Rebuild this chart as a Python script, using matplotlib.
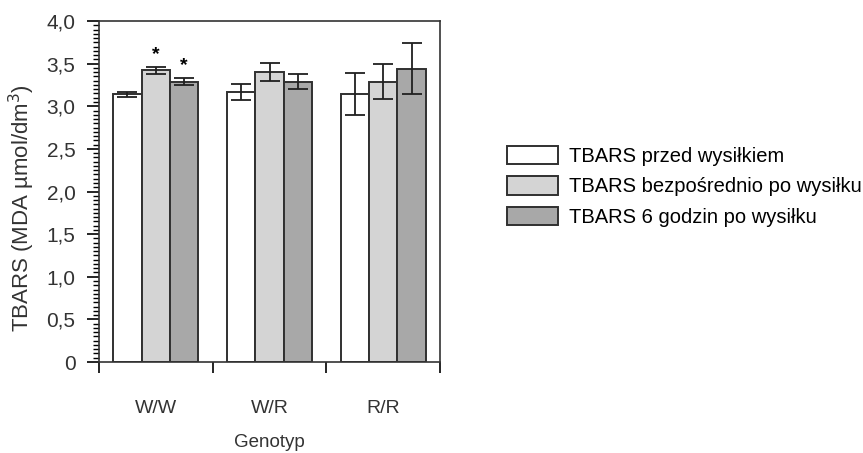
import numpy as np
import matplotlib.pyplot as plt
from matplotlib.ticker import MultipleLocator, FuncFormatter

plt.rcParams['font.family'] = ['Liberation Sans', 'DejaVu Sans']

genotypes = ["W/W", "W/R", "R/R"]
series = ["TBARS przed wysiłkiem", "TBARS bezpośrednio po wysiłku", "TBARS 6 godzin po wysiłku"]
before = [3.14, 3.17, 3.14]
before_err = [0.03, 0.095, 0.245]
after = [3.42, 3.40, 3.29]
after_err = [0.045, 0.105, 0.21]
after6 = [3.29, 3.29, 3.44]
after6_err = [0.045, 0.09, 0.30]
stars = [[False, True, True], [False, False, False], [False, False, False]]

colors = ["white", "#d4d4d4", "#a8a8a8"]
edge = "#303030"
txt = "#333333"

fig = plt.figure(figsize=(8.63, 4.53), dpi=100)
ax = fig.add_axes([99/863, 1 - 362/453, 341/863, 341/453])

x = np.arange(len(genotypes))
w = 0.25
vals = [before, after, after6]
errs = [before_err, after_err, after6_err]
for i in range(3):
    pos = x + (i - 1) * w
    ax.bar(pos, vals[i], w, color=colors[i], edgecolor=edge, linewidth=1.4,
           label=series[i], zorder=2)
    ax.errorbar(pos, vals[i], yerr=errs[i], fmt='none', ecolor="#202020",
                elinewidth=1.3, capsize=7, capthick=1.3, zorder=3)
    for g in range(3):
        if stars[g][i]:
            ax.text(pos[g], vals[i][g] + errs[i][g] + 0.04, "*", ha='center',
                    va='bottom', fontsize=14, fontweight='bold')

ax.set_xlim(-0.5, 2.5)
ax.set_ylim(0, 4.0)
ax.set_xticks([-0.5, 0.5, 1.5, 2.5])
ax.set_xticklabels([])
ax.tick_params(axis='x', length=8, width=1.2, direction='out')
for g, name in enumerate(genotypes):
    ax.text(g, -0.54, name, ha='center', va='center', fontsize=14, color=txt)
ax.text(1, -0.95, "Genotyp", ha='center', va='center', fontsize=13.5, color=txt)

ax.yaxis.set_major_locator(MultipleLocator(0.5))
ax.yaxis.set_minor_locator(MultipleLocator(0.05))
ax.yaxis.set_major_formatter(FuncFormatter(lambda v, p: "0" if v == 0 else f"{v:.1f}".replace(".", ",")))
ax.tick_params(axis='y', which='major', length=9, width=1.2, labelsize=15, labelcolor=txt, pad=8)
ax.tick_params(axis='y', which='minor', length=4.5, width=1.0)
ax.set_ylabel("TBARS (MDA µmol/dm$^3$)", fontsize=16, color=txt)
ax.yaxis.set_label_coords(-62/341, 0.45)
for s in ax.spines.values():
    s.set_linewidth(1.2)
    s.set_color("#333333")

ax.legend(loc='upper left', bbox_to_anchor=(491/863, 1 - 130/453), bbox_transform=fig.transFigure,
          frameon=False, fontsize=14.5, handlelength=2.55, handleheight=1.0,
          labelspacing=0.52, handletextpad=0.5, borderpad=0.3)

fig.savefig("out.png", dpi=100)
